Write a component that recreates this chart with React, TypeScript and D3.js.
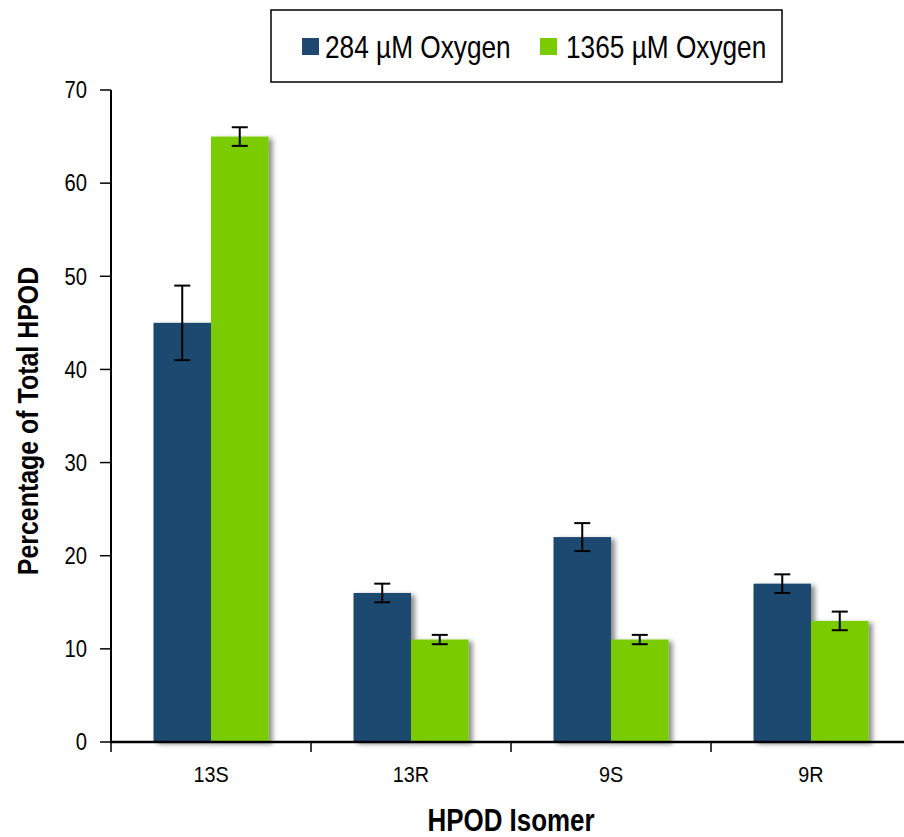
import React from "react";
import * as d3 from "d3";

const categories = ["13S", "13R", "9S", "9R"];
const seriesNames = ["284 µM Oxygen", "1365 µM Oxygen"];
const values284 = [45, 16, 22, 17];
const errors284 = [4, 1, 1.5, 1];
const values1365 = [65, 11, 11, 13];
const errors1365 = [1, 0.5, 0.5, 1];
const yTicks = [0, 10, 20, 30, 40, 50, 60, 70];
const colors = ["#1F4870", "#7ACC00"];

const W = 904;
const H = 837;
const FONT = "'Liberation Sans', Arial, sans-serif";

type NTProps = {
  x: number;
  y: number;
  sx: number;
  rotate?: number;
  size: number;
  bold?: boolean;
  anchor?: "start" | "middle" | "end";
  dy?: string;
  children: React.ReactNode;
};

function NText({ x, y, sx, rotate = 0, size, bold, anchor = "start", dy, children }: NTProps) {
  return (
    <g transform={`translate(${x},${y}) rotate(${rotate}) scale(${sx},1)`}>
      <text
        x={0}
        y={0}
        dy={dy}
        fontSize={size}
        fontWeight={bold ? "bold" : "normal"}
        textAnchor={anchor}
        fill="#000"
        fontFamily={FONT}
      >
        {children}
      </text>
    </g>
  );
}

export default function App() {
  const left = 111;
  const top = 90;
  const bottom = 742;
  const x = d3.scaleBand<string>().domain(categories).range([left, left + 800]).padding(0);
  const xs = d3
    .scaleBand<string>()
    .domain(seriesNames)
    .range([0, x.bandwidth()])
    .paddingInner(0)
    .paddingOuter(0.739);
  const y = d3.scaleLinear().domain([0, 70]).range([bottom, top]);
  const seriesVals = [values284, values1365];
  const seriesErr = [errors284, errors1365];

  return (
    <svg
      width={W}
      height={H}
      style={{ position: "absolute", left: 0, top: 0, background: "#fff" }}
      fontFamily={FONT}
    >
      <defs>
        <filter id="shadow" x="-20%" y="-20%" width="150%" height="130%">
          <feDropShadow dx="4" dy="2" stdDeviation="2.5" floodColor="#000" floodOpacity="0.45" />
        </filter>
      </defs>
      <rect x={0} y={0} width={W} height={H} fill="#fff" />

      {/* bars */}
      {categories.map((c, i) => (
        <g key={c}>
          {seriesNames.map((s, j) => {
            const v = seriesVals[j][i];
            const bx = (x(c) as number) + (xs(s) as number);
            return (
              <rect
                key={s}
                x={bx}
                y={y(v)}
                width={xs.bandwidth()}
                height={y(0) - y(v)}
                fill={colors[j]}
                filter="url(#shadow)"
              />
            );
          })}
        </g>
      ))}
      {/* error bars */}
      {categories.map((c, i) => (
        <g key={c + "e"} stroke="#000" strokeWidth={2}>
          {seriesNames.map((s, j) => {
            const v = seriesVals[j][i];
            const e = seriesErr[j][i];
            const cx = (x(c) as number) + (xs(s) as number) + xs.bandwidth() / 2;
            return (
              <g key={s}>
                <line x1={cx} x2={cx} y1={y(v + e)} y2={y(v - e)} />
                <line x1={cx - 8} x2={cx + 8} y1={y(v + e)} y2={y(v + e)} />
                <line x1={cx - 8} x2={cx + 8} y1={y(v - e)} y2={y(v - e)} />
              </g>
            );
          })}
        </g>
      ))}

      {/* y axis */}
      <line x1={left} x2={left} y1={top} y2={bottom} stroke="#000" strokeWidth={2} />
      {yTicks.map((t) => (
        <g key={t}>
          <line x1={left - 11} x2={left} y1={y(t)} y2={y(t)} stroke="#000" strokeWidth={1.5} />
          <NText x={87} y={y(t)} dy="0.36em" sx={0.88} size={23} anchor="end">
            {t}
          </NText>
        </g>
      ))}
      {/* x axis */}
      <line x1={left - 1} x2={W} y1={bottom} y2={bottom} stroke="#000" strokeWidth={2.5} />
      {categories.map((c) => (
        <line
          key={c + "t"}
          x1={x(c) as number}
          x2={x(c) as number}
          y1={bottom}
          y2={bottom + 10}
          stroke="#000"
          strokeWidth={1.5}
        />
      ))}
      {categories.map((c) => (
        <NText key={c + "l"} x={(x(c) as number) + x.bandwidth() / 2} y={782} sx={0.9} size={22} anchor="middle">
          {c}
        </NText>
      ))}

      {/* axis titles */}
      <NText x={511} y={831} sx={0.81} size={32} bold anchor="middle">
        HPOD Isomer
      </NText>
      <NText x={38} y={(top + bottom) / 2 + 5} rotate={-90} sx={0.86} size={29} bold anchor="middle">
        Percentage of Total HPOD
      </NText>

      {/* legend */}
      <rect x={271} y={10} width={511} height={72} fill="#fff" stroke="#000" strokeWidth={1.5} />
      <rect x={302} y={38} width={17} height={17} fill={colors[0]} />
      <NText x={325} y={58} sx={0.82} size={32}>
        {seriesNames[0]}
      </NText>
      <rect x={540} y={38} width={17} height={17} fill={colors[1]} />
      <NText x={566} y={58} sx={0.82} size={32}>
        {seriesNames[1]}
      </NText>
    </svg>
  );
}
